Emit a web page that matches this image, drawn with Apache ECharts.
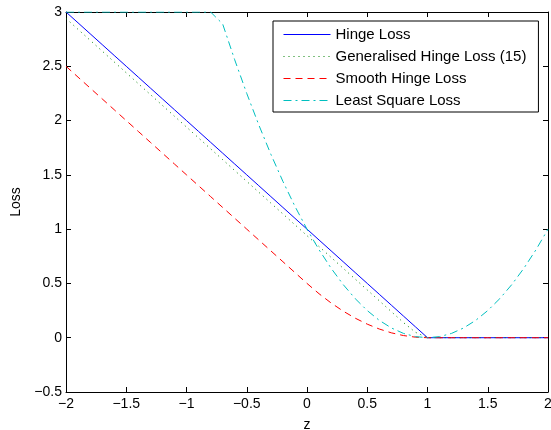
<!DOCTYPE html>
<html>
<head>
<meta charset="utf-8">
<script src="https://cdn.jsdelivr.net/npm/echarts@6/dist/echarts.min.js"></script>
<style>
  html, body { margin: 0; padding: 0; background: #fff; }
  #main { width: 551px; height: 430px; }
</style>
</head>
<body>
<div id="main"></div>
<script>
// z samples (step 0.1)
var zs = [-2.0, -1.9, -1.8, -1.7, -1.6, -1.5, -1.4, -1.3, -1.2, -1.1,
          -1.0, -0.9, -0.8, -0.7, -0.6, -0.5, -0.4, -0.3, -0.2, -0.1,
           0.0,  0.1,  0.2,  0.3,  0.4,  0.5,  0.6,  0.7,  0.8,  0.9,
           1.0,  1.1,  1.2,  1.3,  1.4,  1.5,  1.6,  1.7,  1.8,  1.9, 2.0];

var hingeLoss = [3.0, 2.9, 2.8, 2.7, 2.6, 2.5, 2.4, 2.3, 2.2, 2.1,
                 2.0, 1.9, 1.8, 1.7, 1.6, 1.5, 1.4, 1.3, 1.2, 1.1,
                 1.0, 0.9, 0.8, 0.7, 0.6, 0.5, 0.4, 0.3, 0.2, 0.1,
                 0, 0, 0, 0, 0, 0, 0, 0, 0, 0, 0];

var generalisedHinge = [2.94, 2.84, 2.74, 2.64, 2.54, 2.44, 2.34, 2.24, 2.14, 2.04,
                        1.94, 1.84, 1.74, 1.64, 1.54, 1.44, 1.34, 1.24, 1.14, 1.04,
                        0.94, 0.84, 0.74, 0.64, 0.54, 0.44, 0.34, 0.24, 0.14, 0.05,
                        0, 0, 0, 0, 0, 0, 0, 0, 0, 0, 0];

var smoothHinge = [2.5, 2.4, 2.3, 2.2, 2.1, 2.0, 1.9, 1.8, 1.7, 1.6,
                   1.5, 1.4, 1.3, 1.2, 1.1, 1.0, 0.9, 0.8, 0.7, 0.6,
                   0.5, 0.405, 0.32, 0.245, 0.18, 0.125, 0.08, 0.045, 0.02, 0.005,
                   0, 0, 0, 0, 0, 0, 0, 0, 0, 0, 0];

// clipped at the top of the axes (3) on the left
var leastSquare = [3, 3, 3, 3, 3, 3, 3, 3, 3, 3,
                   3, 3, 3, 2.89, 2.56, 2.25, 1.96, 1.69, 1.44, 1.21,
                   1.0, 0.81, 0.64, 0.49, 0.36, 0.25, 0.16, 0.09, 0.04, 0.01,
                   0, 0.01, 0.04, 0.09, 0.16, 0.25, 0.36, 0.49, 0.64, 0.81, 1.0];

var seriesNames = ['Hinge Loss', 'Generalised Hinge Loss (15)', 'Smooth Hinge Loss', 'Least Square Loss'];

function pairs(ys) {
  return zs.map(function (z, i) { return [z, ys[i]]; });
}
function fmt(v) {
  return String(v).replace('-', '\u2212');
}

var font = 'Liberation Sans, Arial, Helvetica, sans-serif';
var chart = echarts.init(document.getElementById('main'));

var axisCommon = {
  axisLine: { show: true, onZero: false, lineStyle: { color: '#000', width: 1 } },
  axisTick: { show: true, inside: true, length: 5, lineStyle: { color: '#000' } },
  splitLine: { show: false },
  nameTextStyle: { color: '#000', fontFamily: font, fontSize: 14 }
};

var styles = [
  { color: '#0000ff', type: 'solid' },
  { color: '#008000', type: [1, 4] },
  { color: '#ff0000', type: [7, 5] },
  { color: '#00bfbf', type: [8, 4, 2, 4] }
];

function mkSeries(i, data) {
  return {
    name: seriesNames[i],
    type: 'line',
    data: pairs(data),
    symbol: 'none',
    animation: false,
    itemStyle: { color: 'rgba(0,0,0,0)' },
    lineStyle: { color: styles[i].color, width: 1, type: styles[i].type }
  };
}

var option = {
  backgroundColor: '#fff',
  animation: false,
  grid: { left: 66, right: 3, top: 12, bottom: 38, outerBoundsMode: 'none' },
  legend: {
    orient: 'vertical',
    left: 273,
    top: 21,
    padding: [6, 12, 4, 10],
    itemWidth: 47,
    itemHeight: 13,
    itemGap: 7,
    backgroundColor: '#fff',
    borderColor: '#000',
    borderWidth: 1,
    borderRadius: 0,
    textStyle: { color: '#000', fontFamily: font, fontSize: 15 },
    data: seriesNames.map(function (n, i) {
      return { name: n, lineStyle: { color: styles[i].color, width: 1, type: styles[i].type } };
    })
  },
  xAxis: [
    Object.assign({}, axisCommon, {
      type: 'value', min: -2, max: 2, interval: 0.5,
      name: 'z', nameLocation: 'middle', nameGap: 26,
      axisLabel: { color: '#000', fontFamily: font, fontSize: 14, margin: 5,
                   formatter: fmt }
    }),
    Object.assign({}, axisCommon, {
      type: 'value', min: -2, max: 2, interval: 0.5, position: 'top',
      axisLabel: { show: false }
    })
  ],
  yAxis: [
    Object.assign({}, axisCommon, {
      type: 'value', min: -0.5, max: 3, interval: 0.5,
      name: 'Loss', nameLocation: 'middle', nameGap: 40,
      axisLabel: { color: '#000', fontFamily: font, fontSize: 14, margin: 4,
                   formatter: fmt }
    }),
    Object.assign({}, axisCommon, {
      type: 'value', min: -0.5, max: 3, interval: 0.5, position: 'right',
      axisLabel: { show: false }
    })
  ],
  series: [
    mkSeries(0, hingeLoss),
    mkSeries(1, generalisedHinge),
    mkSeries(2, smoothHinge),
    mkSeries(3, leastSquare)
  ]
};

chart.setOption(option);
</script>
</body>
</html>
